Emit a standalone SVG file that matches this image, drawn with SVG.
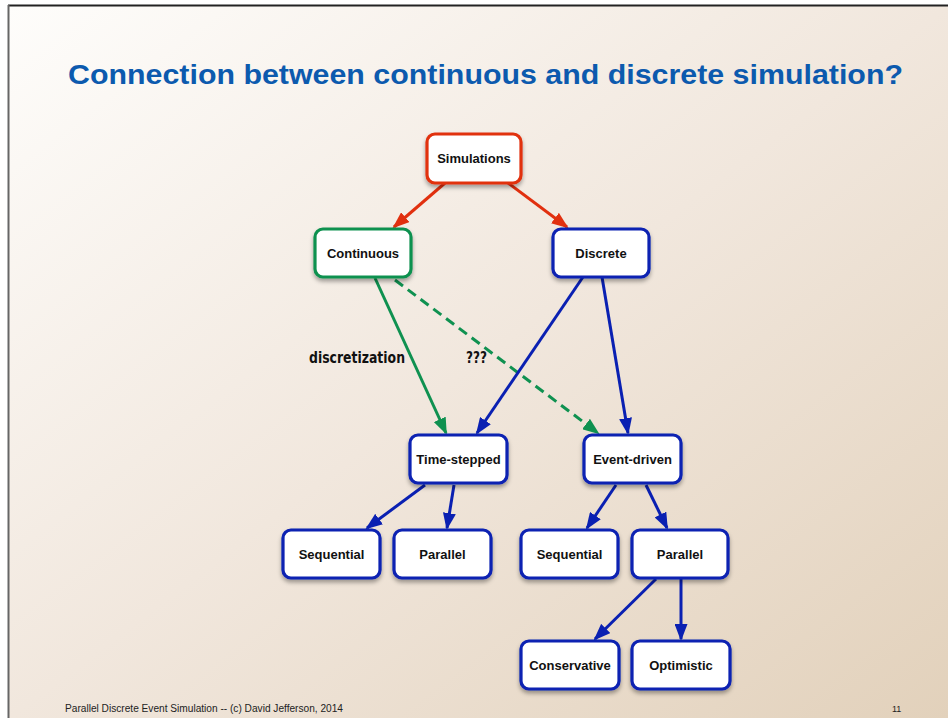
<svg xmlns="http://www.w3.org/2000/svg" width="948" height="718" viewBox="0 0 948 718">
<defs>
<linearGradient id="bg" x1="0" y1="0" x2="1" y2="1">
<stop offset="0" stop-color="#fefdfb"/>
<stop offset="0.5" stop-color="#f1e7dd"/>
<stop offset="1" stop-color="#e2d1bb"/>
</linearGradient>
<filter id="sh" x="-20%" y="-20%" width="140%" height="150%">
<feDropShadow dx="0" dy="3" stdDeviation="2" flood-color="#000" flood-opacity="0.35"/>
</filter>
<marker id="ar" markerUnits="userSpaceOnUse" markerWidth="17" markerHeight="13" refX="15" refY="6.5" orient="auto"><path d="M0,0 L17,6.5 L0,13 z" fill="#e1300f"/></marker>
<marker id="ag" markerUnits="userSpaceOnUse" markerWidth="17" markerHeight="13" refX="15" refY="6.5" orient="auto"><path d="M0,0 L17,6.5 L0,13 z" fill="#0f9150"/></marker>
<marker id="ab" markerUnits="userSpaceOnUse" markerWidth="17" markerHeight="13" refX="15" refY="6.5" orient="auto"><path d="M0,0 L17,6.5 L0,13 z" fill="#0a20b2"/></marker>
</defs>
<style>
.box{fill:#fff;stroke-width:3.2;filter:url(#sh)}
.red{stroke:#e1300f}
.grn{stroke:#0f9150}
.blu{stroke:#0a20b2}
.lbl{font-family:"Liberation Sans",Arial,sans-serif;font-weight:bold;font-size:13px;fill:#111;text-anchor:middle}
.e{fill:none;stroke-width:3}
.hand{font-family:"DejaVu Sans Condensed","Liberation Sans Narrow",sans-serif;font-weight:bold;font-size:15px;fill:#111}
</style>
<rect x="0" y="0" width="948" height="718" fill="#fff"/>
<rect x="9" y="6" width="939" height="712" fill="url(#bg)"/>
<line x1="8" y1="5.5" x2="948" y2="5.5" stroke="#222" stroke-width="2"/>
<line x1="8.5" y1="5" x2="8.5" y2="718" stroke="#666" stroke-width="2"/>
<text x="68" y="84" font-family="'Gill Sans','Liberation Sans',sans-serif" font-weight="bold" font-size="27" fill="#0c5aae" textLength="835" lengthAdjust="spacingAndGlyphs">Connection between continuous and discrete simulation?</text>

<g id="connectors">
<line class="e red" x1="445" y1="183" x2="394" y2="227" marker-end="url(#ar)"/>
<line class="e red" x1="508" y1="183" x2="567" y2="227" marker-end="url(#ar)"/>
<line class="e grn" x1="375" y1="278" x2="446" y2="433" marker-end="url(#ag)"/>
<line class="e grn" x1="395" y1="280" x2="598" y2="433" stroke-dasharray="10,6" marker-end="url(#ag)"/>
<line class="e blu" x1="583" y1="277" x2="477" y2="433" marker-end="url(#ab)"/>
<line class="e blu" x1="602" y1="277" x2="628" y2="433" marker-end="url(#ab)"/>
<line class="e blu" x1="425" y1="485" x2="367" y2="528" marker-end="url(#ab)"/>
<line class="e blu" x1="454" y1="485" x2="447" y2="528" marker-end="url(#ab)"/>
<line class="e blu" x1="616" y1="485" x2="587" y2="528" marker-end="url(#ab)"/>
<line class="e blu" x1="646" y1="485" x2="667" y2="528" marker-end="url(#ab)"/>
<line class="e blu" x1="656" y1="579" x2="595" y2="639" marker-end="url(#ab)"/>
<line class="e blu" x1="681" y1="579" x2="681" y2="639" marker-end="url(#ab)"/>
<text class="hand" x="309" y="363" textLength="96" lengthAdjust="spacingAndGlyphs">discretization</text>
<text class="hand" x="466" y="363" textLength="21" lengthAdjust="spacingAndGlyphs">???</text>
</g>

<g id="simulations"><rect class="box red" x="427" y="134" width="94" height="49" rx="8"/><text class="lbl" x="474" y="163">Simulations</text></g>
<g id="continuous"><rect class="box grn" x="315" y="229" width="96" height="48" rx="8"/><text class="lbl" x="363" y="258">Continuous</text></g>
<g id="discrete"><rect class="box blu" x="553" y="229" width="96" height="48" rx="8"/><text class="lbl" x="601" y="258">Discrete</text></g>
<g id="time-stepped"><rect class="box blu" x="410" y="435" width="97" height="48" rx="8"/><text class="lbl" x="458.5" y="464">Time-stepped</text></g>
<g id="event-driven"><rect class="box blu" x="584" y="435" width="97" height="48" rx="8"/><text class="lbl" x="632.5" y="464">Event-driven</text></g>
<g id="sequential1"><rect class="box blu" x="283" y="530" width="97" height="48" rx="8"/><text class="lbl" x="331.5" y="559">Sequential</text></g>
<g id="parallel1"><rect class="box blu" x="394" y="530" width="97" height="48" rx="8"/><text class="lbl" x="442.5" y="559">Parallel</text></g>
<g id="sequential2"><rect class="box blu" x="521" y="530" width="97" height="48" rx="8"/><text class="lbl" x="569.5" y="559">Sequential</text></g>
<g id="parallel2"><rect class="box blu" x="632" y="530" width="96" height="48" rx="8"/><text class="lbl" x="680" y="559">Parallel</text></g>
<g id="conservative"><rect class="box blu" x="521" y="641" width="98" height="48" rx="8"/><text class="lbl" x="570" y="670">Conservative</text></g>
<g id="optimistic"><rect class="box blu" x="632" y="641" width="98" height="48" rx="8"/><text class="lbl" x="681" y="670">Optimistic</text></g>

<text x="65" y="712" font-family="'Gill Sans','Liberation Sans',sans-serif" font-size="10" fill="#222" textLength="278" lengthAdjust="spacingAndGlyphs">Parallel Discrete Event Simulation  -- (c) David Jefferson, 2014</text>
<text x="892" y="712" font-family="'Liberation Sans',sans-serif" font-size="9" fill="#222">11</text>
</svg>
